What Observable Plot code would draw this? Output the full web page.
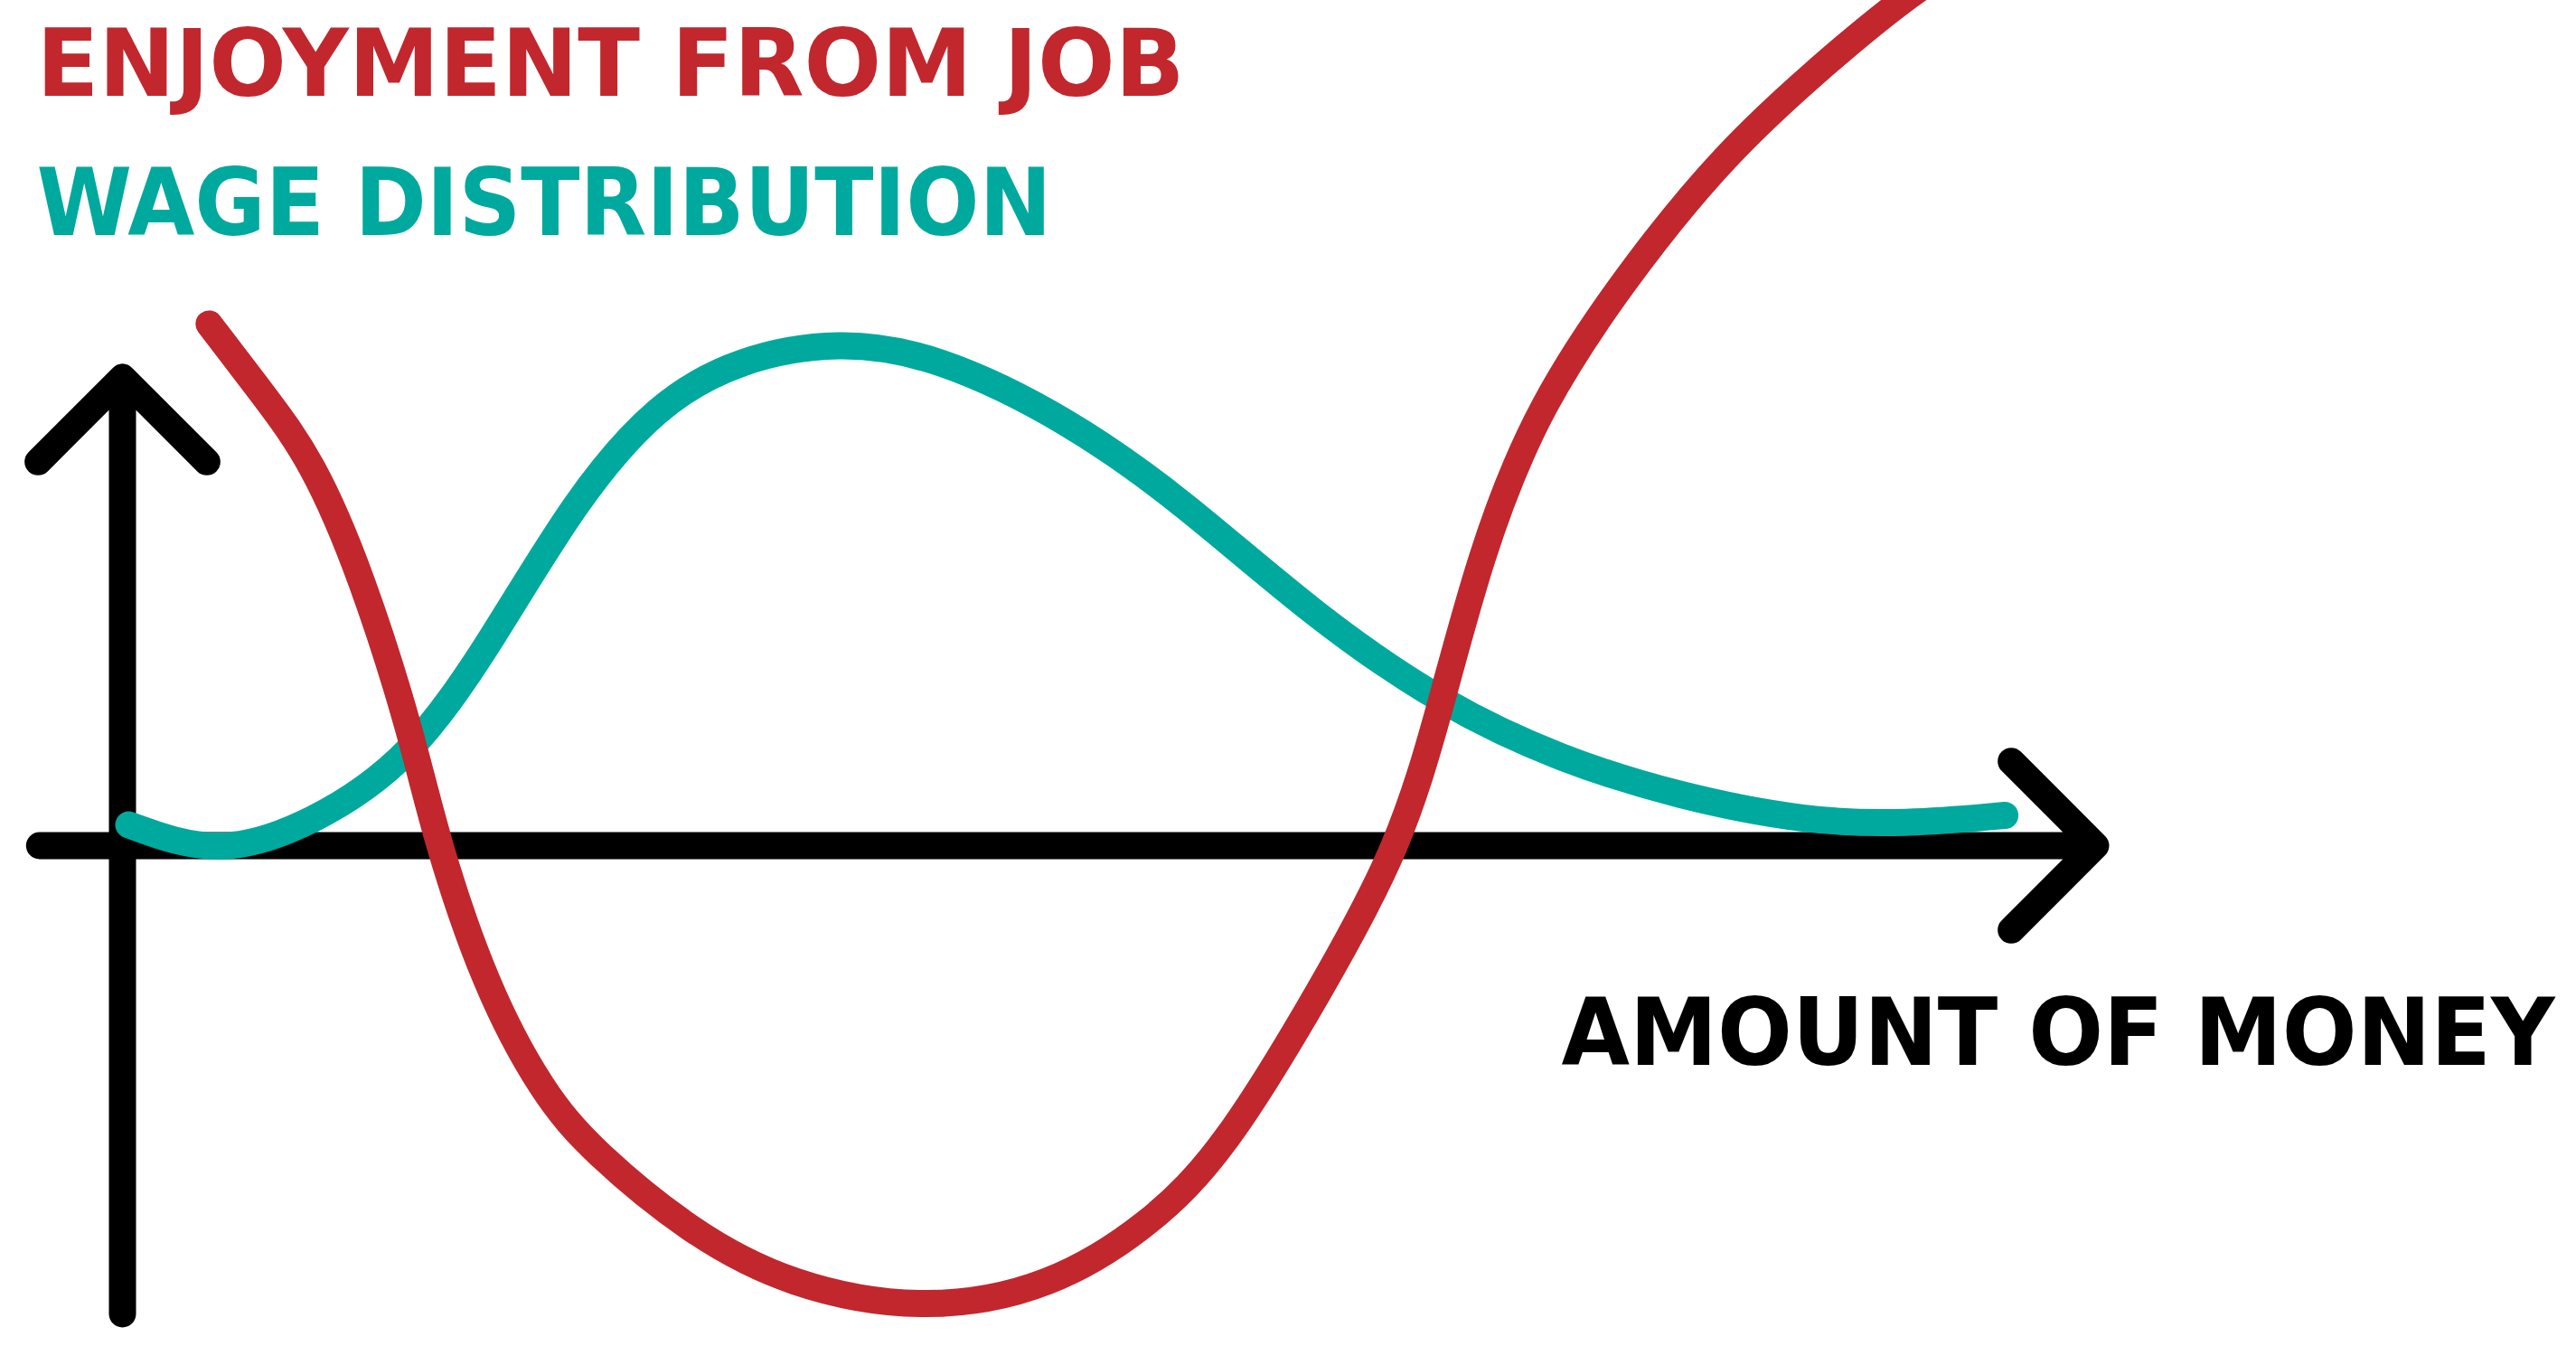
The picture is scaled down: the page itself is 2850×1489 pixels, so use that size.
<!DOCTYPE html>
<html>
<head>
<meta charset="utf-8">
<script src="https://cdn.jsdelivr.net/npm/d3@7"></script>
<script src="https://cdn.jsdelivr.net/npm/@observablehq/plot@0.6"></script>
<style>
html, body { margin: 0; padding: 0; background: #ffffff; overflow: hidden; }
#chart svg { display: block; }
</style>
</head>
<body>
<div id="chart"></div>
<script>
// Wage distribution (teal)
const wageX = [0.032, 0.481, 0.963, 1.463, 1.880, 2.296, 2.712, 3.128, 3.628, 4.127, 4.793, 5.376, 6.042, 6.709, 7.291, 7.874, 8.541, 9.040, 9.540];
const wageY = [0.222, -0.120, 0.230, 0.920, 2.220, 3.700, 4.727, 5.201, 5.396, 5.235, 4.551, 3.674, 2.446, 1.481, 0.920, 0.534, 0.253, 0.230, 0.323];

// Enjoyment from job (red)
const enjoyX = [0.439, 0.714, 0.963, 1.213, 1.463, 1.588, 1.838, 2.129, 2.379, 2.879, 3.378, 4.069, 4.711, 5.210, 5.585, 6.084, 6.476, 6.680, 6.875, 7.167, 7.708, 8.124, 8.541, 9.040, 9.290];
const enjoyY = [5.570, 4.815, 4.113, 2.884, 1.218, 0.077, -1.502, -2.642, -3.256, -4.133, -4.700, -4.980, -4.720, -4.045, -3.256, -1.502, 0.000, 1.481, 3.060, 4.700, 6.330, 7.380, 8.200, 9.080, 9.400];

// Hand-drawn axes (arrows): vertical then horizontal
const axisX1 = [0, -0.42];
const axisY1 = [-5, 0];
const axisX2 = [0, 10];
const axisY2 = [5, 0];

// Texts
const seriesLabels = ["ENJOYMENT FROM JOB", "WAGE DISTRIBUTION"];
const xAxisLabel = "AMOUNT OF MONEY";

const RED = "#C1272D";
const TEAL = "#00A99D";
const FONT = "'DejaVu Sans Condensed', 'Liberation Sans Narrow', 'DejaVu Sans', sans-serif";

const chart = Plot.plot({
  width: 2850,
  height: 1489,
  margin: 0,
  x: {domain: [0, 10], range: [135, 2318], axis: null},
  y: {domain: [0, 5], range: [935, 417], axis: null},
  style: {background: "#ffffff", overflow: "hidden"},
  marks: [
    Plot.arrow(axisX1, {
      x1: axisX1, y1: axisY1, x2: axisX2, y2: axisY2,
      stroke: "#000000", strokeWidth: 30,
      headLength: 6.6, headAngle: 90,
      strokeLinecap: "round", strokeLinejoin: "round"
    }),
    Plot.line(wageX, {
      x: wageX, y: wageY, curve: "basis",
      stroke: TEAL, strokeWidth: 30, strokeLinecap: "round", strokeLinejoin: "round"
    }),
    Plot.line(enjoyX, {
      x: enjoyX, y: enjoyY, curve: "basis",
      stroke: RED, strokeWidth: 30, strokeLinecap: "round", strokeLinejoin: "round"
    }),
    Plot.text([seriesLabels[0]], {
      text: d => d, frameAnchor: "top-left", dx: 40, dy: 32,
      lineAnchor: "top", textAnchor: "start",
      fill: RED, fontSize: 104, fontWeight: "bold", fontFamily: FONT
    }),
    Plot.text([seriesLabels[1]], {
      text: d => d, frameAnchor: "top-left", dx: 40, dy: 186,
      lineAnchor: "top", textAnchor: "start",
      fill: TEAL, fontSize: 104, fontWeight: "bold", fontFamily: FONT
    }),
    Plot.text([xAxisLabel], {
      text: d => d, frameAnchor: "top-right", dx: -24, dy: 1104,
      lineAnchor: "top", textAnchor: "end",
      fill: "#000000", fontSize: 104, fontWeight: "bold", fontFamily: FONT
    })
  ]
});

// fit the texts to the widths of the hand lettering
const widths = {"ENJOYMENT FROM JOB": 1270, "WAGE DISTRIBUTION": 1123, "AMOUNT OF MONEY": 1099};
d3.select(chart).selectAll("text").each(function() {
  const t = this.textContent;
  if (widths[t]) {
    this.setAttribute("textLength", widths[t]);
    this.setAttribute("lengthAdjust", "spacingAndGlyphs");
  }
});

document.getElementById("chart").appendChild(chart);
</script>
</body>
</html>
